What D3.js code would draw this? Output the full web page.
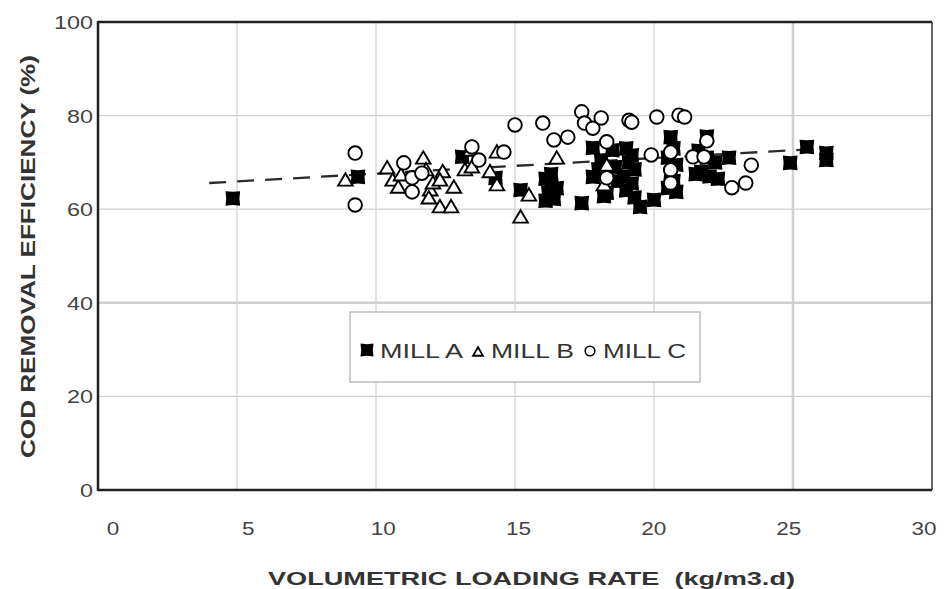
<!DOCTYPE html>
<html>
<head>
<meta charset="utf-8">
<script src="https://cdn.jsdelivr.net/npm/d3@7"></script>
<style>
  body { margin: 0; background: #fff; }
  svg { display: block; font-family: "Liberation Sans", Arial, sans-serif; }
</style>
</head>
<body>
<div id="chart"></div>
<script>
// --- data ---
const xTicks = [0, 5, 10, 15, 20, 25, 30];
const yTicks = [0, 20, 40, 60, 80, 100];

// MILL A : filled squares
const millA = [
  [4.85, 62.3], [9.35, 66.9], [13.1, 71.2], [14.3, 66.7], [15.2, 64.1],
  [16.1, 66.5], [16.3, 65.0], [16.2, 63.5], [16.4, 62.2], [16.1, 61.8], [16.5, 64.5], [16.3, 67.5],
  [17.4, 61.3], [17.8, 73.1], [17.8, 66.9], [18.0, 68.5], [18.3, 63.5], [18.2, 62.8],
  [18.5, 72.6], [18.6, 69.0], [18.7, 66.0], [18.1, 70.5],
  [19.0, 73.0], [19.2, 71.5], [19.1, 70.0], [19.3, 68.5], [18.9, 67.0], [19.2, 65.5], [19.0, 64.0], [19.3, 62.5],
  [19.5, 60.5], [20.0, 62.0],
  [20.6, 75.4], [20.7, 73.0], [20.5, 71.0], [20.8, 69.5], [20.6, 67.5], [20.7, 66.0], [20.5, 64.5], [20.8, 63.7],
  [21.6, 72.5], [21.9, 71.0], [22.2, 70.0], [21.7, 68.0], [22.0, 67.0], [22.3, 66.5], [21.5, 67.5],
  [21.9, 75.5], [22.7, 71.0],
  [24.9, 69.9], [25.5, 73.3], [26.2, 72.0], [26.2, 70.5]
];

// MILL B : open triangles
const millB = [
  [8.9, 66.2], [10.4, 68.8], [10.6, 66.2], [10.8, 64.7], [10.9, 67.3],
  [11.7, 70.9], [11.8, 68.4], [11.95, 64.1], [11.9, 62.4], [12.3, 60.5], [12.7, 60.5],
  [12.05, 65.6], [12.4, 68.0], [12.8, 64.7], [12.3, 66.2], [13.2, 68.4], [13.45, 69.0],
  [13.4, 72.6], [14.35, 72.2], [14.1, 68.0], [14.35, 65.2], [15.2, 58.3], [15.5, 63.0],
  [16.5, 70.9], [18.2, 65.2], [18.3, 69.4]
];

// MILL C : open circles
const millC = [
  [9.25, 72.0], [9.25, 60.9], [11.0, 69.9], [11.3, 66.7], [11.3, 63.7], [11.65, 67.7],
  [13.45, 73.3], [13.7, 70.5], [14.6, 72.2], [15.0, 78.0], [16.0, 78.4], [16.4, 74.8],
  [16.9, 75.4], [17.4, 80.8], [17.5, 78.4], [17.8, 77.3], [18.1, 79.5], [19.1, 79.0],
  [19.2, 78.6], [20.1, 79.7], [20.9, 80.1], [21.1, 79.7], [18.3, 74.4], [18.3, 66.7],
  [19.9, 71.6], [20.6, 72.2], [20.6, 68.4], [20.6, 65.6], [21.9, 74.6], [21.4, 71.2],
  [21.8, 71.2], [23.5, 69.4], [22.8, 64.6], [23.3, 65.6]
];

// dashed trend line end points
const trendX = [4.0, 26.2];
const trendY = [65.6, 73.0];

const legendItems = ["MILL A", "MILL B", "MILL C"];

// --- layout ---
const W = 951, H = 589;
const pLeft = 98, pRight = 932, pTop = 22, pBottom = 490;

const svg = d3.select("#chart").append("svg")
  .attr("width", W).attr("height", H);

const x = d3.scaleLinear().domain([0, 30]).range([pLeft, pRight]);
const y = d3.scaleLinear().domain([0, 100]).range([pBottom, pTop]);
// tick labels in the picture sit on a slightly different spacing
const xLab = d3.scaleLinear().domain([0, 30]).range([113, 924]);

// grid
const grid = svg.append("g");
grid.selectAll(".vg").data(xTicks.filter(d => d > 0 && d < 30)).enter()
  .append("line")
  .attr("x1", d => x(d)).attr("x2", d => x(d))
  .attr("y1", pTop).attr("y2", pBottom)
  .attr("stroke", "#cfcfcf")
  .attr("stroke-width", d => d === 25 ? 2.5 : 1.2);
grid.selectAll(".hg").data(yTicks.filter(d => d > 0 && d < 100)).enter()
  .append("line")
  .attr("x1", pLeft).attr("x2", pRight)
  .attr("y1", d => y(d)).attr("y2", d => y(d))
  .attr("stroke", "#cfcfcf")
  .attr("stroke-width", d => d === 40 ? 2.5 : 1.2);

// frame
svg.append("line").attr("x1", pLeft).attr("x2", pRight).attr("y1", pTop).attr("y2", pTop)
  .attr("stroke", "#222").attr("stroke-width", 2.5);
svg.append("line").attr("x1", pRight).attr("x2", pRight).attr("y1", pTop).attr("y2", pBottom)
  .attr("stroke", "#333").attr("stroke-width", 1.5);
svg.append("line").attr("x1", pLeft).attr("x2", pRight).attr("y1", pBottom).attr("y2", pBottom)
  .attr("stroke", "#222").attr("stroke-width", 2.5);
svg.append("line").attr("x1", pLeft).attr("x2", pLeft).attr("y1", pTop - 1).attr("y2", pBottom + 1)
  .attr("stroke", "#222").attr("stroke-width", 2.5);

// tick labels (glyphs in the picture are stretched sideways)
svg.append("g").selectAll("g").data(xTicks).enter()
  .append("g")
  .attr("transform", d => `translate(${xLab(d)},535) scale(1.25,1)`)
  .append("text")
  .attr("text-anchor", "middle")
  .attr("font-size", 18)
  .attr("fill", "#444")
  .text(d => d);

svg.append("g").selectAll("g").data(yTicks).enter()
  .append("g")
  .attr("transform", d => `translate(93,${y(d) + 7}) scale(1.3,1)`)
  .append("text")
  .attr("text-anchor", "end")
  .attr("font-size", 18)
  .attr("fill", "#444")
  .text(d => d);

// axis titles
svg.append("text")
  .attr("x", 268).attr("y", 585)
  .attr("font-size", 19).attr("font-weight", "bold").attr("fill", "#333")
  .style("white-space", "pre")
  .attr("textLength", 527).attr("lengthAdjust", "spacingAndGlyphs")
  .text("VOLUMETRIC LOADING RATE  (kg/m3.d)");

svg.append("g")
  .attr("transform", "translate(35,458) rotate(-90)")
  .append("text")
  .attr("x", 0).attr("y", 0)
  .attr("font-size", 21).attr("font-weight", "bold").attr("fill", "#333")
  .attr("textLength", 403).attr("lengthAdjust", "spacingAndGlyphs")
  .text("COD REMOVAL EFFICIENCY (%)");

// trend line
svg.append("path")
  .datum(d3.zip(trendX, trendY))
  .attr("fill", "none")
  .attr("stroke", "#2a2a2a")
  .attr("stroke-width", 2.3)
  .attr("stroke-dasharray", "17,11")
  .attr("d", d3.line().x(d => x(d[0])).y(d => y(d[1])));

// marker shapes
const sq = s => `M${-s},${-s} L0,${-s + 0.7} L${s},${-s} L${s - 0.7},0 L${s},${s} L0,${s - 0.7} L${-s},${s} L${-s + 0.7},0 Z`;
const tri = s => `M0,${-s * 0.95} L${s},${s * 0.75} L${-s},${s * 0.75} Z`;

const marks = svg.append("g");
marks.selectAll(".a").data(millA).enter()
  .append("path")
  .attr("transform", d => `translate(${x(d[0])},${y(d[1])})`)
  .attr("d", sq(7.3))
  .attr("fill", "#000");

marks.selectAll(".b").data(millB).enter()
  .append("path")
  .attr("transform", d => `translate(${x(d[0])},${y(d[1])})`)
  .attr("d", tri(7.3))
  .attr("fill", "#fff")
  .attr("stroke", "#000")
  .attr("stroke-width", 1.9);

marks.selectAll(".c").data(millC).enter()
  .append("circle")
  .attr("cx", d => x(d[0])).attr("cy", d => y(d[1]))
  .attr("r", 6.8)
  .attr("fill", "#fff")
  .attr("stroke", "#000")
  .attr("stroke-width", 1.9);

// legend
const lg = svg.append("g");
lg.append("rect")
  .attr("x", 350).attr("y", 312).attr("width", 350).attr("height", 70)
  .attr("fill", "#fff").attr("stroke", "#bdbdbd").attr("stroke-width", 1.5);

const legX = [367, 478, 590];
lg.append("path").attr("transform", `translate(${legX[0]},350)`).attr("d", sq(6.5)).attr("fill", "#000");
lg.append("path").attr("transform", `translate(${legX[1]},352)`).attr("d", tri(5)).attr("fill", "#fff")
  .attr("stroke", "#000").attr("stroke-width", 1.8);
lg.append("circle").attr("cx", legX[2]).attr("cy", 351).attr("r", 4.8).attr("fill", "#fff")
  .attr("stroke", "#000").attr("stroke-width", 1.6);

lg.selectAll(".lt").data(legendItems).enter()
  .append("text")
  .attr("x", (d, i) => legX[i] + 13)
  .attr("y", 358)
  .attr("font-size", 21)
  .attr("fill", "#333")
  .attr("textLength", 83).attr("lengthAdjust", "spacingAndGlyphs")
  .text(d => d);
</script>
</body>
</html>
